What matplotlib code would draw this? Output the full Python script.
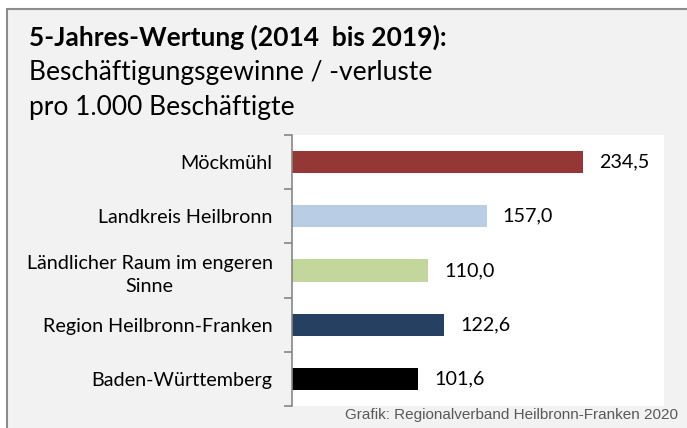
import matplotlib
matplotlib.use("Agg")
import matplotlib.pyplot as plt
from matplotlib.patches import Rectangle

# Daten
regionen = ["Möckmühl", "Landkreis Heilbronn", "Ländlicher Raum im engeren\nSinne",
            "Region Heilbronn-Franken", "Baden-Württemberg"]
werte = [234.5, 157.0, 110.0, 122.6, 101.6]
farben = ["#953735", "#b9cde5", "#c3d69b", "#254061", "#000000"]

plt.rcParams["font.family"] = ["Lato", "DejaVu Sans"]

fig = plt.figure(figsize=(6.87, 4.28), dpi=100)
fig.patch.set_facecolor("white")

# Rahmen / Hintergrund
rahmen = Rectangle((7 / 687, -0.05), 1.1, (428 - 9) / 428 + 0.05, transform=fig.transFigure,
                   facecolor="#f2f2f2", edgecolor="#8c8c8c", linewidth=1.5, zorder=-10)
fig.patches.append(rahmen)

ax = fig.add_axes([292 / 687, 22 / 428, 372 / 687, 271 / 428])
ax.set_zorder(5)
ax.set_facecolor("white")

pos = list(range(len(regionen)))
ax.barh(pos, werte, height=0.41, color=farben, zorder=2)
for p, w in zip(pos, werte):
    ax.annotate(f"{w:.1f}".replace(".", ","), (w, p), xytext=(11.5, 0),
                textcoords="offset points", va="center", ha="left", fontsize=14.2)

ax.set_xlim(0, 300)
ax.set_ylim(len(regionen) - 0.5, -0.5)

# Kategorien als Minor-Ticks, Trennstriche als Major-Ticks
ax.set_yticks([i - 0.5 for i in range(len(regionen) + 1)])
ax.set_yticklabels([])
ax.set_yticks(pos, minor=True)
ax.set_yticklabels(regionen, minor=True, fontsize=14.2, multialignment="center")
ax.tick_params(axis="y", which="major", length=6, color="#868686", width=1.2)
ax.tick_params(axis="y", which="minor", length=0, pad=14)
for lab in ax.get_yticklabels(minor=True):
    lab.set_linespacing(1.4)

ax.get_xaxis().set_visible(False)
for s in ["top", "right", "bottom"]:
    ax.spines[s].set_visible(False)
ax.spines["left"].set_color("#868686")
ax.spines["left"].set_linewidth(1.2)

# Titel
fig.text(29 / 687, 1 - 46 / 428, "5-Jahres-Wertung (2014  bis 2019):", fontsize=19,
         fontweight="bold", va="baseline", ha="left")
fig.text(29 / 687, 1 - 80 / 428, "Beschäftigungsgewinne / -verluste", fontsize=19,
         va="baseline", ha="left")
fig.text(29 / 687, 1 - 114.5 / 428, "pro 1.000 Beschäftigte", fontsize=19,
         va="baseline", ha="left")

fig.text(678 / 687, 1 - 415 / 428, "Grafik: Regionalverband Heilbronn-Franken 2020",
         fontsize=11, family="Liberation Sans", color="#595959", ha="right", va="center")

fig.savefig("out.png", dpi=100)
